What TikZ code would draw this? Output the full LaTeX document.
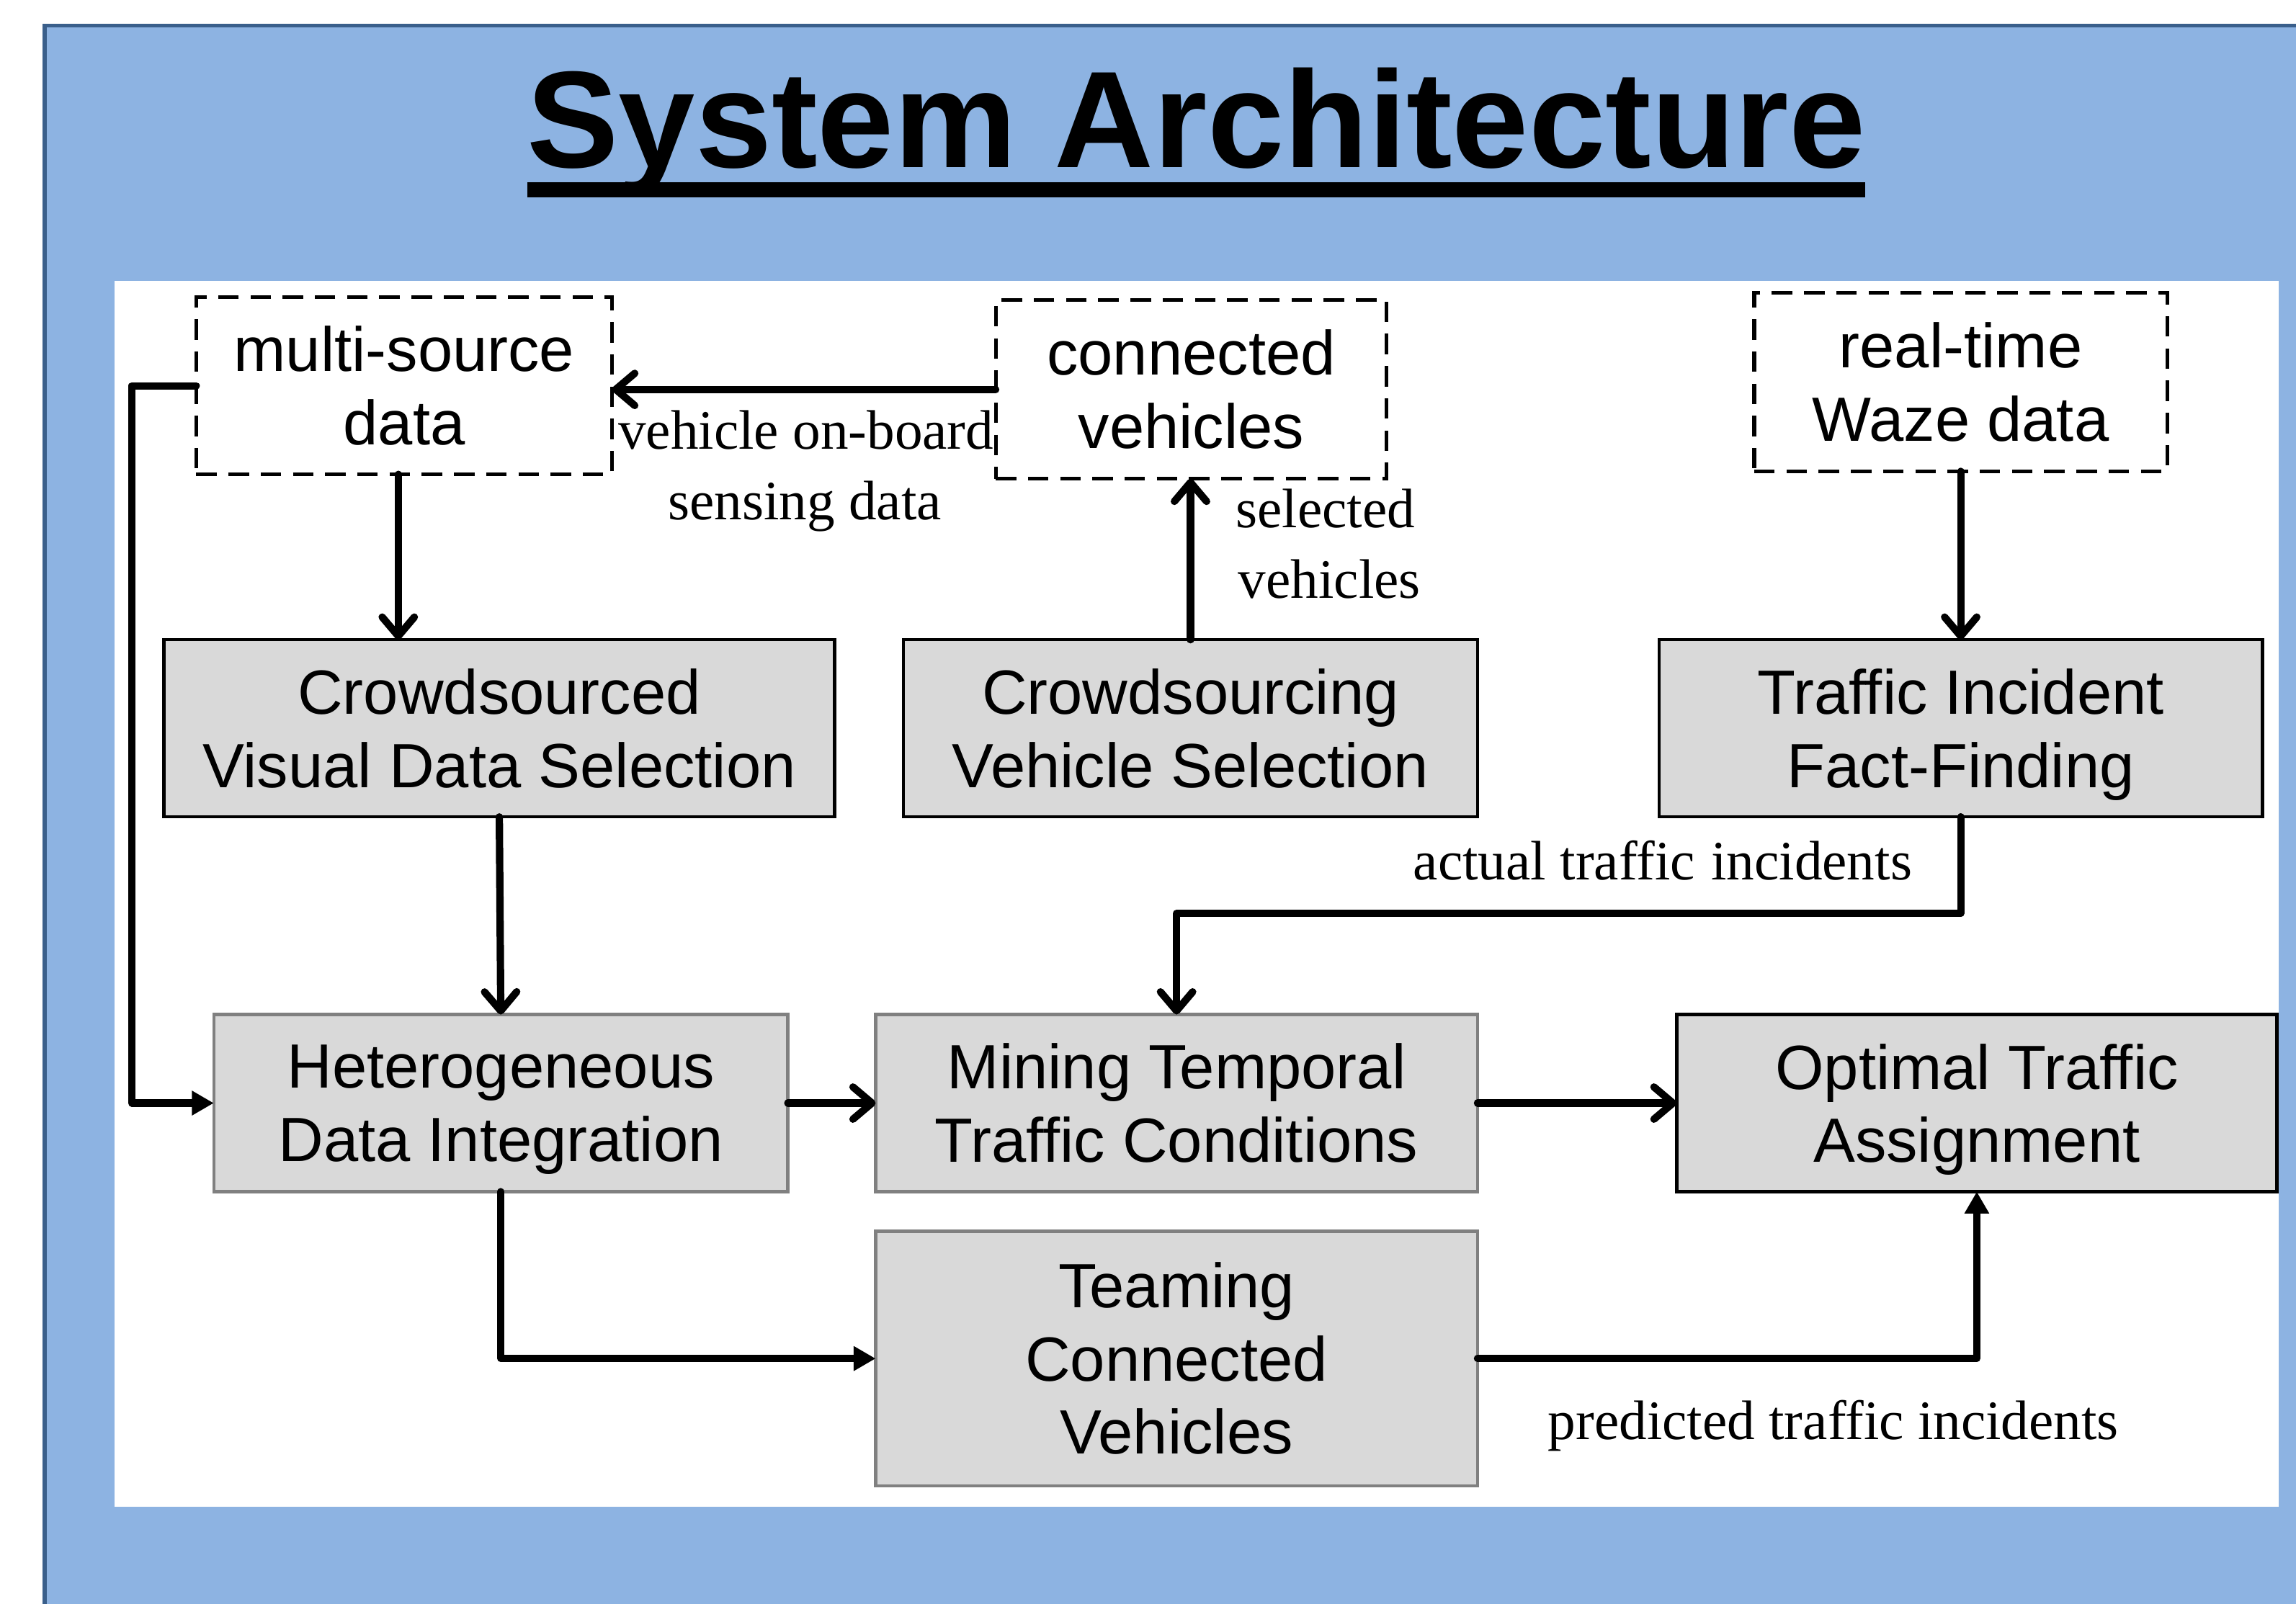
\documentclass[tikz,border=0pt]{standalone}
\usepackage{fontspec}
\setmainfont{Liberation Serif}
\newfontfamily\arialf{Liberation Sans}
\usetikzlibrary{arrows.meta}
\definecolor{bgblue}{HTML}{8DB3E2}
\definecolor{bgdark}{HTML}{3A5F8B}
\definecolor{boxgray}{HTML}{D9D9D9}
\definecolor{boxborder}{HTML}{808080}
\newcommand{\nodepth}[1]{\raisebox{0pt}[\height][0pt]{#1}}
\begin{document}
\begin{tikzpicture}[x=1pt,y=-1pt,
  boxtxt/.style={font=\arialf\fontsize{42.7}{50}\selectfont, align=center, inner sep=0pt, outer sep=0pt},
  dbox/.style={boxtxt, draw=black, line width=2.5pt, dash pattern=on 14pt off 8pt, fill=white},
  bbox/.style={boxtxt, draw=black, line width=2.2pt, fill=boxgray},
  gbox/.style={boxtxt, draw=boxborder, line width=2.2pt, fill=boxgray},
  lbl/.style={font=\fontsize{38}{48}\selectfont, inner sep=0pt, anchor=base west},
  conn/.style={line width=5pt, line join=round, line cap=round},
  vto/.style={conn, -{Straight Barb[length=13pt,width=22pt,line cap=round,line join=round]}},
  tri/.style={conn, -{Triangle[length=15pt,width=16pt]}}
]
\useasboundingbox (0,0) rectangle (1568,1095.2);
\clip (0,0) rectangle (1568,1095.2);
% background panel
\draw[fill=bgblue, draw=bgdark, line width=2.6pt] (30.5,17.4) rectangle (1640,1160);
\fill[white] (78,192) rectangle (1556,1029);
% title
\node[anchor=base, inner sep=0pt, font=\arialf\bfseries\fontsize{94}{100}\selectfont] (title) at (817,114.6) {System Architecture};
\fill[black] (360,124.5) rectangle (1274,135);
% boxes
\node[dbox, minimum width=284pt, minimum height=121pt] (ms) at (276,263.5) {multi-source\\data};
\node[dbox, minimum width=267pt, minimum height=122pt] (cv) at (813.5,266) {connected\\vehicles};
\node[dbox, minimum width=282pt, minimum height=122pt] (wz) at (1339,261) {real-time\\Waze data};
\node[bbox, minimum width=458pt, minimum height=121pt] (cs) at (341,497.5) {Crowdsourced\\Visual Data Selection};
\node[bbox, minimum width=392pt, minimum height=121pt] (cvs) at (813,497.5) {Crowdsourcing\\Vehicle Selection};
\node[bbox, minimum width=412pt, minimum height=121pt] (tif) at (1339,497.5) {Traffic Incident\\\nodepth{Fact-Finding}};
\node[gbox, minimum width=392pt, minimum height=121pt] (het) at (342,753.5) {Heterogeneous\\\nodepth{Data Integration}};
\node[gbox, minimum width=411pt, minimum height=121pt] (mtc) at (803.5,753.5) {Mining Temporal\\Traffic Conditions};
\node[bbox, minimum width=410pt, minimum height=121pt] (ota) at (1350,753.5) {Optimal Traffic\\\nodepth{Assignment}};
\node[gbox, minimum width=411pt, minimum height=174pt] (tcv) at (803.5,928) {Teaming\\Connected\\Vehicles};
% labels
\node[lbl] (l1a) at (422,307) {vehicle on-board};
\node[lbl] (l1b) at (456,355) {sensing data};
\node[lbl] (l2a) at (843.8,360.6) {selected};
\node[lbl] (l2b) at (845.5,408.7) {vehicles};
\node[lbl] (l3) at (965,601) {actual traffic\hspace{11pt}incidents};
\node[lbl] (l4) at (1057,983) {predicted traffic incidents};
% connectors
\draw[vto] (cv.west) -- (cv.west -| ms.east);
\draw[tri] (ms.west) -- ++(-44,0) |- (het.west);
\draw[vto] ([xshift=-4pt]ms.south) -- ([xshift=-4pt]ms.south |- cs.north);
\draw[vto] (cvs.north) -- (cvs.north |- cv.south);
\draw[vto] (wz.south) -- (tif.north);
\draw[vto] (cs.south) -- (het.north);
\draw[vto] (tif.south) -- ++(0,66) -| (mtc.north);
\draw[vto] (het.east) -- (mtc.west);
\draw[vto] (mtc.east) -- (ota.west);
\draw[tri] (het.south) |- (tcv.west);
\draw[tri] (tcv.east) -| (ota.south);
\end{tikzpicture}
\end{document}
